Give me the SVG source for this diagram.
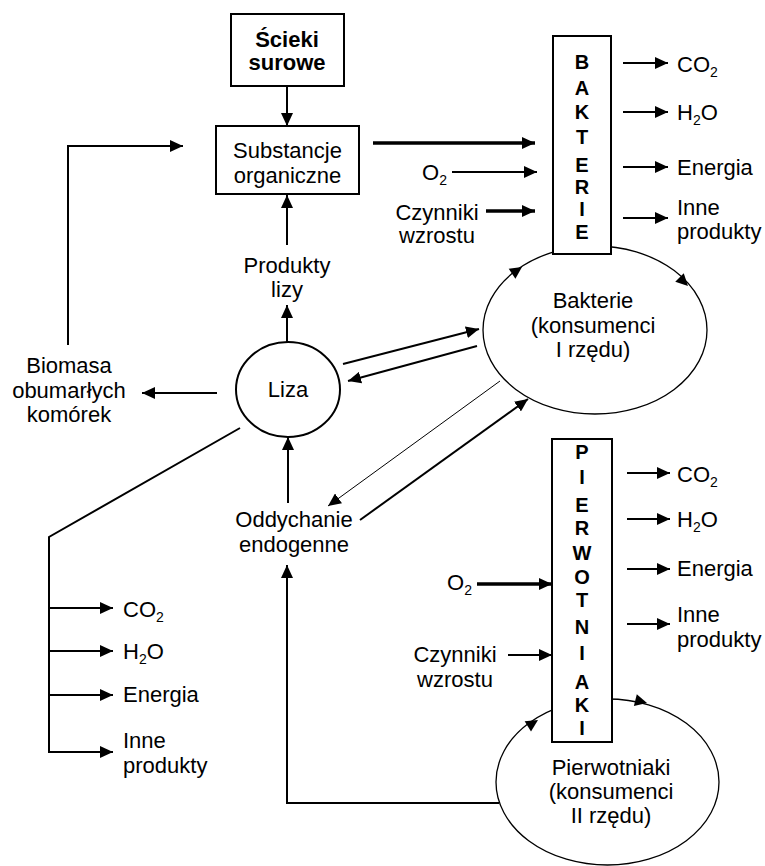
<svg xmlns="http://www.w3.org/2000/svg" width="765" height="866" viewBox="0 0 765 866">
<style>
text{font-family:"Liberation Sans",Arial,sans-serif;font-size:22px;fill:#000}
.b{font-weight:bold}
.l{font-weight:bold;font-size:20px;text-anchor:middle}
.m{text-anchor:middle}
.e{text-anchor:end}
.s{font-size:14px}
.box{fill:#fff;stroke:#000;stroke-width:2}
.ell{fill:none;stroke:#000;stroke-width:1.3}
.c{fill:none;stroke:#000;stroke-width:2}
.t{fill:none;stroke:#000;stroke-width:3.5}
.n{fill:none;stroke:#000;stroke-width:1}
</style>
<defs>
<marker id="ah" markerWidth="13" markerHeight="12" refX="13" refY="6" orient="auto" markerUnits="userSpaceOnUse"><path d="M0,0 L13,6 L0,12 z" fill="#000"/></marker>
<path id="tri" d="M-12,-6 L0,0 L-12,6 z" fill="#000"/>
</defs>
<rect width="765" height="866" fill="#fff"/>

<g id="connectors">
<line class="c" x1="287" y1="86" x2="287" y2="126" marker-end="url(#ah)"/>
<line class="c" x1="287" y1="245" x2="287" y2="195" marker-end="url(#ah)"/>
<line class="c" x1="287" y1="342" x2="287" y2="305" marker-end="url(#ah)"/>
<line class="t" x1="373" y1="143" x2="535" y2="143" marker-end="url(#ah)"/>
<line class="c" x1="452" y1="172" x2="537" y2="172" marker-end="url(#ah)"/>
<line class="t" x1="486" y1="211" x2="535" y2="211" marker-end="url(#ah)"/>
<line class="c" x1="623" y1="63" x2="668" y2="63" marker-end="url(#ah)"/>
<line class="c" x1="623" y1="112" x2="668" y2="112" marker-end="url(#ah)"/>
<line class="c" x1="623" y1="167" x2="668" y2="167" marker-end="url(#ah)"/>
<line class="c" x1="623" y1="218" x2="668" y2="218" marker-end="url(#ah)"/>
<polyline class="c" points="68,345 68,146 183,146" marker-end="url(#ah)"/>
<line class="c" x1="217" y1="393" x2="142" y2="393" marker-end="url(#ah)"/>
<line class="c" x1="343" y1="364" x2="479" y2="329" marker-end="url(#ah)"/>
<line class="c" x1="477" y1="346" x2="348" y2="381" marker-end="url(#ah)"/>
<line class="n" x1="500" y1="381" x2="328" y2="506" marker-end="url(#ah)"/>
<line class="c" x1="360" y1="520" x2="528" y2="399" marker-end="url(#ah)"/>
<line class="c" x1="288" y1="503" x2="288" y2="437" marker-end="url(#ah)"/>
<polyline class="c" points="240,428 49,537 49,752 113,752" marker-end="url(#ah)"/>
<line class="c" x1="49" y1="608" x2="113" y2="608" marker-end="url(#ah)"/>
<line class="c" x1="49" y1="651" x2="113" y2="651" marker-end="url(#ah)"/>
<line class="c" x1="49" y1="695" x2="113" y2="695" marker-end="url(#ah)"/>
<polyline class="c" points="499,803 287,803 287,565" marker-end="url(#ah)"/>
<line class="c" x1="627" y1="473" x2="670" y2="473" marker-end="url(#ah)"/>
<line class="c" x1="627" y1="519" x2="670" y2="519" marker-end="url(#ah)"/>
<line class="c" x1="627" y1="569" x2="670" y2="569" marker-end="url(#ah)"/>
<line class="c" x1="627" y1="624" x2="670" y2="624" marker-end="url(#ah)"/>
<line class="t" x1="477" y1="584" x2="552" y2="584" marker-end="url(#ah)"/>
<line class="c" x1="508" y1="655" x2="552" y2="655" marker-end="url(#ah)"/>
</g>

<g id="scieki">
<rect class="box" x="231" y="14" width="113" height="72"/>
<text class="b m" x="287" y="47">Ścieki</text>
<text class="b m" x="287" y="70">surowe</text>
</g>

<g id="substancje">
<rect class="box" x="216" y="126" width="143" height="68"/>
<text class="m" x="287.5" y="158">Substancje</text>
<text class="m" x="287.5" y="183">organiczne</text>
</g>

<g id="o2-top"><text class="e" x="447" y="180">O<tspan class="s" dy="5">2</tspan></text></g>
<g id="czynniki-top">
<text class="m" x="437" y="220">Czynniki</text>
<text class="m" x="437" y="243">wzrostu</text>
</g>

<g id="bakterie-ellipse">
<ellipse class="ell" cx="595" cy="330" rx="112" ry="84"/>
<use href="#tri" transform="translate(522,267) rotate(-34)"/>
<use href="#tri" transform="translate(688,286) rotate(45)"/>
<text class="m" x="593" y="308">Bakterie</text>
<text class="m" x="593" y="333">(konsumenci</text>
<text class="m" x="593" y="357">I rzędu)</text>
</g>

<g id="bakterie">
<rect class="box" x="553" y="36" width="58" height="218"/>
<text class="l" x="582" y="69">B</text>
<text class="l" x="582" y="95">A</text>
<text class="l" x="582" y="119">K</text>
<text class="l" x="582" y="144">T</text>
<text class="l" x="582" y="172">E</text>
<text class="l" x="582" y="194">R</text>
<text class="l" x="582" y="216">I</text>
<text class="l" x="582" y="239">E</text>
</g>

<g id="bakterie-outputs">
<text x="677" y="72">CO<tspan class="s" dy="5">2</tspan></text>
<text x="677" y="120">H<tspan class="s" dy="5">2</tspan><tspan dy="-5">O</tspan></text>
<text x="677" y="175">Energia</text>
<text x="677" y="215">Inne</text>
<text x="677" y="239">produkty</text>
</g>

<g id="produkty-lizy">
<text class="m" x="287" y="273">Produkty</text>
<text class="m" x="287" y="297">lizy</text>
</g>

<g id="liza">
<ellipse cx="288" cy="389.5" rx="52" ry="47.5" fill="#fff" stroke="#000" stroke-width="2"/>
<text class="m" x="288" y="397">Liza</text>
</g>

<g id="biomasa">
<text class="m" x="69" y="373">Biomasa</text>
<text class="m" x="69" y="398">obumarłych</text>
<text class="m" x="69" y="422">komórek</text>
</g>

<g id="oddychanie">
<text class="m" x="294" y="527">Oddychanie</text>
<text class="m" x="294" y="552">endogenne</text>
</g>

<g id="left-outputs">
<text x="123" y="617">CO<tspan class="s" dy="5">2</tspan></text>
<text x="123" y="659">H<tspan class="s" dy="5">2</tspan><tspan dy="-5">O</tspan></text>
<text x="123" y="702">Energia</text>
<text x="123" y="748">Inne</text>
<text x="123" y="773">produkty</text>
</g>

<g id="pierwotniaki-ellipse">
<ellipse class="ell" cx="607.5" cy="782" rx="111.5" ry="83"/>
<use href="#tri" transform="translate(538,720) rotate(-32)"/>
<use href="#tri" transform="translate(647,703) rotate(14)"/>
<text class="m" x="611" y="775">Pierwotniaki</text>
<text class="m" x="611" y="799">(konsumenci</text>
<text class="m" x="611" y="823">II rzędu)</text>
</g>

<g id="pierwotniaki">
<rect class="box" x="552" y="439" width="60" height="303"/>
<text class="l" x="582" y="459">P</text>
<text class="l" x="582" y="484">I</text>
<text class="l" x="582" y="512">E</text>
<text class="l" x="582" y="535">R</text>
<text class="l" x="582" y="560">W</text>
<text class="l" x="582" y="584">O</text>
<text class="l" x="582" y="607">T</text>
<text class="l" x="582" y="634">N</text>
<text class="l" x="582" y="660">I</text>
<text class="l" x="582" y="689">A</text>
<text class="l" x="582" y="712">K</text>
<text class="l" x="582" y="735">I</text>
</g>

<g id="pierwotniaki-outputs">
<text x="677" y="482">CO<tspan class="s" dy="5">2</tspan></text>
<text x="677" y="527">H<tspan class="s" dy="5">2</tspan><tspan dy="-5">O</tspan></text>
<text x="677" y="576">Energia</text>
<text x="677" y="622">Inne</text>
<text x="677" y="647">produkty</text>
</g>

<g id="o2-bottom"><text class="e" x="472" y="590">O<tspan class="s" dy="5">2</tspan></text></g>
<g id="czynniki-bottom">
<text class="m" x="455" y="662">Czynniki</text>
<text class="m" x="455" y="687">wzrostu</text>
</g>
</svg>
